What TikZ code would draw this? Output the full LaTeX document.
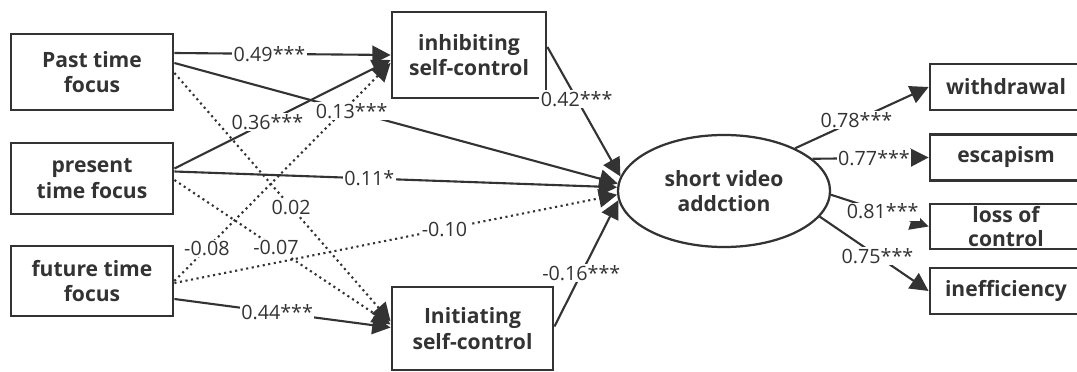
\documentclass[tikz,border=0pt]{standalone}
\usepackage{fontspec}
\setmainfont{Open Sans}
\usetikzlibrary{arrows.meta,shapes.geometric,calc}
\definecolor{semgray}{RGB}{51,51,51}

\begin{document}
\begin{tikzpicture}[
    x=0.025cm, y=-0.025cm,
    box/.style={rectangle, draw=semgray, line width=2pt, align=center, text=semgray, inner sep=1pt, font=\bfseries\fontsize{15}{18}\selectfont},
    latent/.style={ellipse, draw=semgray, line width=1.6pt, minimum width=5.3cm, minimum height=2.8cm, align=center, text=semgray, font=\bfseries\fontsize{15}{18}\selectfont},
    link/.style={-{Triangle[length=13pt,width=13pt]}, semgray, line width=1.5pt},
    weak/.style={link, dash pattern=on 1.5pt off 2.5pt},
    coef/.style={fill=white, inner sep=1pt, text=semgray, font=\fontsize{14}{16}\selectfont}
]
\useasboundingbox (0,0) rectangle (1077,372);

% Time perspectives
\node[box, minimum width=4.05cm, minimum height=1.9cm] (past) at (92,72) {Past time\\focus};
\node[box, minimum width=4.05cm, minimum height=1.775cm] (present) at (92,178.5) {present\\time focus};
\node[box, minimum width=4.05cm, minimum height=1.75cm] (future) at (92,281) {future time\\focus};

% Self-control mediators
\node[box, minimum width=3.85cm, minimum height=2.15cm] (inhib) at (469,55) {inhibiting\\self-control};
\node[box, minimum width=4.025cm, minimum height=2.075cm] (init) at (472.5,328.5) {Initiating\\self-control};

% Outcome and its indicators
\node[latent] (addict) at (724,191) {short video\\addction};
\node[box, minimum width=3.8cm, minimum height=1.15cm] (withdraw) at (1006,87) {withdrawal};
\node[box, minimum width=3.8cm, minimum height=1.15cm] (escape) at (1006,157.5) {escapism};
\node[box, minimum width=3.8cm, minimum height=1.125cm,
      label={[font=\bfseries\fontsize{15}{17}\selectfont, text=semgray, align=center]center:{loss of\\control}}] (loss) at (1006,226.5) {};
\node[box, minimum width=3.8cm, minimum height=1.15cm] (ineff) at (1006,291) {inefficiency};

% Paths to the mediators
\draw[weak] ($(past.east)+(0,1)$) -- ($(init.west)+(0,-7)$) node[coef, pos=0.54] {0.02};
\draw[weak] ($(present.east)+(0,1.5)$) -- ($(init.west)+(0,-4)$) node[coef, pos=0.47] {-0.07};
\draw[weak] (future.east) -- ($(inhib.west)+(0,8)$) node[coef, pos=0.15] {-0.08};
\draw[link] ($(past.east)+(0,-19)$) -- (inhib.west) node[coef, pos=0.44] {0.49***};
\draw[link] ($(present.east)+(0,-10)$) -- ($(inhib.west)+(0,5)$) node[coef, pos=0.43] {0.36***};
\draw[link] ($(future.east)+(0,18)$) -- ($(init.west)+(0,-1)$) node[coef, pos=0.475] {0.44***};

% Paths to the outcome
\draw[weak] ($(future.east)+(0,2)$) -- (addict.182) node[coef, pos=0.61] {-0.10};
\draw[link] ($(past.east)+(0,-9)$) -- (addict.176) node[coef, pos=0.40] {0.13***};
\draw[link] ($(present.east)+(0,-7)$) -- (addict.178) node[coef, pos=0.44] {0.11*};
\draw[link] ($(inhib.east)+(0,-8)$) -- (addict.172) node[coef, pos=0.4] {0.42***};
\draw[link] ($(init.east)+(0,-2)$) -- (addict.185) node[coef, pos=0.42] {-0.16***};

% Loadings
\draw[link] (addict.31) -- (withdraw.west) node[coef, pos=0.46] {0.78***};
\draw[link] (addict.20) -- (escape.west) node[coef, pos=0.53] {0.77***};
\draw[link] (addict.-2) -- (loss.west) node[coef, pos=0.53] {0.81***};
\draw[link] (addict.-15) -- (ineff.west) node[coef, pos=0.53] {0.75***};

\end{tikzpicture}
\end{document}
